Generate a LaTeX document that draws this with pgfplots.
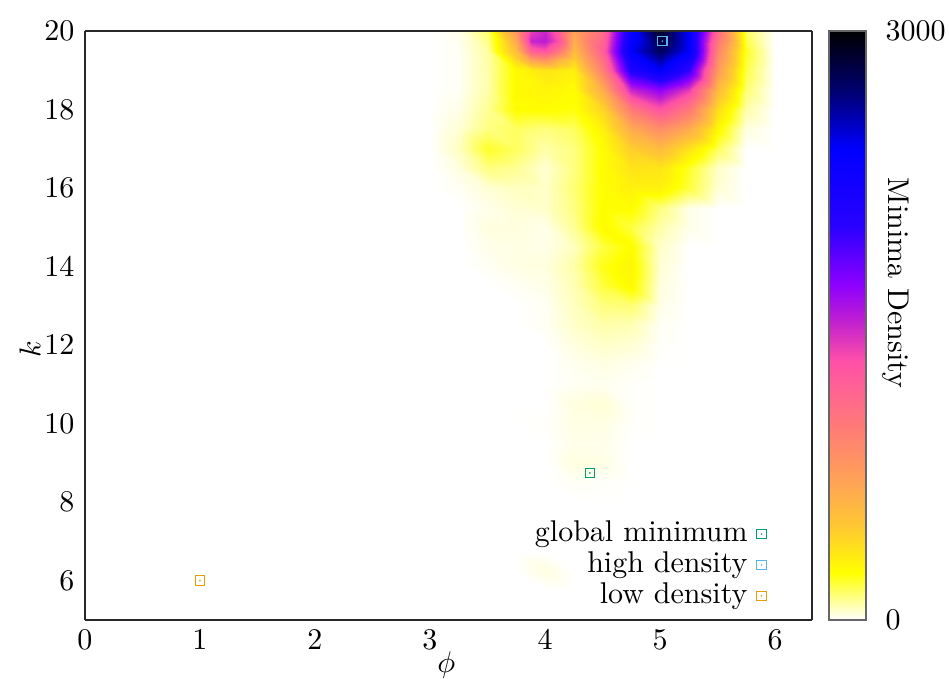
\documentclass[border=0pt]{standalone}
\usepackage{pgfplots}
\pgfplotsset{compat=1.18}

\definecolor{cglob}{RGB}{0,158,115}
\definecolor{chigh}{RGB}{86,180,233}
\definecolor{clow}{RGB}{230,159,0}
\definecolor{frame}{RGB}{40,40,40}

% square with a small dot in the middle
\pgfdeclareplotmark{sqdot}{%
  \pgfpathrectangle{\pgfpoint{-\pgfplotmarksize}{-\pgfplotmarksize}}%
    {\pgfpoint{2\pgfplotmarksize}{2\pgfplotmarksize}}%
  \pgfusepathqstroke
  \pgfpathcircle{\pgfpointorigin}{0.3pt}%
  \pgfusepathqfill
}

\pgfplotsset{
  colormap={density}{
    rgb255(0pt)=(255,255,255);
    rgb255(8pt)=(255,255,0);
    rgb255(15pt)=(255,205,45);
    rgb255(23pt)=(255,165,85);
    rgb255(33pt)=(255,122,120);
    rgb255(44pt)=(255,80,168);
    rgb255(51pt)=(190,30,210);
    rgb255(57pt)=(140,0,255);
    rgb255(67pt)=(40,0,255);
    rgb255(80pt)=(0,0,255);
    rgb255(90pt)=(0,0,110);
    rgb255(100pt)=(0,0,0)
  }
}

\begin{document}
\begin{tikzpicture}
\begin{axis}[
  name=main,
  scale only axis,
  width=242.3pt, height=196.3pt,
  view={0}{90},
  xmin=0, xmax=6.32, ymin=5, ymax=20,
  xtick={0,1,2,3,4,5,6},
  ytick={6,8,10,12,14,16,18,20},
  ztick=\empty,
  major tick length=0pt,
  axis line style={draw=frame, line width=0.8pt},
  colormap name=density,
  point meta min=0, point meta max=3000,
  xlabel={$\phi$}, ylabel={$k$},
  xlabel style={at={(axis description cs:0.497,-0.076)}, anchor=center},
  ylabel style={at={(axis description cs:-0.0757,0.46)}, anchor=center},
  colorbar,
  colorbar shift/.style={xshift=5.7pt},
  colorbar style={
    at={(parent axis.north east)}, anchor=north west,
    width=12.3pt,
    ytick={0,3000},
    major tick length=0pt,
    yticklabel style={xshift=3pt, /pgf/number format/1000 sep={}},
    axis line style={draw=gray!80!black, line width=0.5pt},
    ylabel={Minima Density},
    ylabel style={rotate=180, at={(axis description cs:1.81,0.572)}, anchor=center},
  },
  legend style={draw=none, fill=none, inner sep=0pt,
    at={(rel axis cs:0.938,0.0136)}, anchor=south east,
    column sep=3pt,
    nodes={inner sep=0.15pt, text height=0.75em, text depth=0.25em}},
  legend cell align=right,
  legend plot pos=right,
  legend image code/.code={\draw[#1] plot coordinates {(0pt,0pt)};},
]

% density field (phi = 3.0 ... 6.0 step 0.25, k = 20 ... 8 step 0.5)
\addplot3[surf, shader=interp, mesh/cols=13, point meta=z, forget plot] coordinates {
(3,20,0) (3.25,20,20) (3.5,20,140) (3.75,20,800) (4,20,1550) (4.25,20,700) (4.5,20,1100) (4.75,20,2300) (5,20,2900) (5.25,20,2400) (5.5,20,1100) (5.75,20,150) (6,20,0)
(3,19.5,0) (3.25,19.5,10) (3.5,19.5,90) (3.75,19.5,550) (4,19.5,1200) (4.25,19.5,550) (4.5,19.5,1200) (4.75,19.5,2400) (5,19.5,2750) (5.25,19.5,2400) (5.5,19.5,900) (5.75,19.5,200) (6,19.5,0)
(3,19,0) (3.25,19,10) (3.5,19,80) (3.75,19,260) (4,19,350) (4.25,19,300) (4.5,19,950) (4.75,19,2100) (5,19,2400) (5.25,19,2000) (5.5,19,750) (5.75,19,170) (6,19,0)
(3,18.5,0) (3.25,18.5,10) (3.5,18.5,80) (3.75,18.5,260) (4,18.5,280) (4.25,18.5,250) (4.5,18.5,650) (4.75,18.5,1500) (5,18.5,1700) (5.25,18.5,1400) (5.5,18.5,550) (5.75,18.5,130) (6,18.5,0)
(3,18,0) (3.25,18,20) (3.5,18,100) (3.75,18,250) (4,18,250) (4.25,18,230) (4.5,18,420) (4.75,18,1000) (5,18,1300) (5.25,18,1000) (5.5,18,380) (5.75,18,80) (6,18,0)
(3,17.5,0) (3.25,17.5,40) (3.5,17.5,120) (3.75,17.5,150) (4,17.5,120) (4.25,17.5,150) (4.5,17.5,300) (4.75,17.5,650) (5,17.5,850) (5.25,17.5,650) (5.5,17.5,260) (5.75,17.5,30) (6,17.5,0)
(3,17,0) (3.25,17,60) (3.5,17,200) (3.75,17,150) (4,17,80) (4.25,17,120) (4.5,17,250) (4.75,17,450) (5,17,550) (5.25,17,350) (5.5,17,150) (5.75,17,0) (6,17,0)
(3,16.5,0) (3.25,16.5,30) (3.5,16.5,120) (3.75,16.5,100) (4,16.5,40) (4.25,16.5,120) (4.5,16.5,250) (4.75,16.5,350) (5,16.5,350) (5.25,16.5,200) (5.5,16.5,50) (5.75,16.5,0) (6,16.5,0)
(3,16,0) (3.25,16,10) (3.5,16,40) (3.75,16,60) (4,16,50) (4.25,16,130) (4.5,16,250) (4.75,16,300) (5,16,300) (5.25,16,180) (5.5,16,40) (5.75,16,0) (6,16,0)
(3,15.5,0) (3.25,15.5,0) (3.5,15.5,20) (3.75,15.5,40) (4,15.5,50) (4.25,15.5,120) (4.5,15.5,250) (4.75,15.5,250) (5,15.5,120) (5.25,15.5,20) (5.5,15.5,0) (5.75,15.5,0) (6,15.5,0)
(3,15,0) (3.25,15,0) (3.5,15,30) (3.75,15,30) (4,15,20) (4.25,15,100) (4.5,15,260) (4.75,15,180) (5,15,80) (5.25,15,20) (5.5,15,0) (5.75,15,0) (6,15,0)
(3,14.5,0) (3.25,14.5,0) (3.5,14.5,20) (3.75,14.5,25) (4,14.5,20) (4.25,14.5,60) (4.5,14.5,180) (4.75,14.5,250) (5,14.5,50) (5.25,14.5,0) (5.5,14.5,0) (5.75,14.5,0) (6,14.5,0)
(3,14,0) (3.25,14,0) (3.5,14,10) (3.75,14,25) (4,14,30) (4.25,14,80) (4.5,14,220) (4.75,14,280) (5,14,40) (5.25,14,0) (5.5,14,0) (5.75,14,0) (6,14,0)
(3,13.5,0) (3.25,13.5,0) (3.5,13.5,0) (3.75,13.5,10) (4,13.5,20) (4.25,13.5,70) (4.5,13.5,180) (4.75,13.5,260) (5,13.5,30) (5.25,13.5,0) (5.5,13.5,0) (5.75,13.5,0) (6,13.5,0)
(3,13,0) (3.25,13,0) (3.5,13,0) (3.75,13,0) (4,13,10) (4.25,13,60) (4.5,13,120) (4.75,13,130) (5,13,20) (5.25,13,0) (5.5,13,0) (5.75,13,0) (6,13,0)
(3,12.5,0) (3.25,12.5,0) (3.5,12.5,0) (3.75,12.5,0) (4,12.5,10) (4.25,12.5,50) (4.5,12.5,80) (4.75,12.5,70) (5,12.5,10) (5.25,12.5,0) (5.5,12.5,0) (5.75,12.5,0) (6,12.5,0)
(3,12,0) (3.25,12,0) (3.5,12,0) (3.75,12,0) (4,12,0) (4.25,12,30) (4.5,12,50) (4.75,12,40) (5,12,5) (5.25,12,0) (5.5,12,0) (5.75,12,0) (6,12,0)
(3,11.5,0) (3.25,11.5,0) (3.5,11.5,0) (3.75,11.5,0) (4,11.5,0) (4.25,11.5,15) (4.5,11.5,25) (4.75,11.5,15) (5,11.5,0) (5.25,11.5,0) (5.5,11.5,0) (5.75,11.5,0) (6,11.5,0)
(3,11,0) (3.25,11,0) (3.5,11,0) (3.75,11,0) (4,11,0) (4.25,11,10) (4.5,11,15) (4.75,11,5) (5,11,0) (5.25,11,0) (5.5,11,0) (5.75,11,0) (6,11,0)
(3,10.5,0) (3.25,10.5,0) (3.5,10.5,0) (3.75,10.5,0) (4,10.5,0) (4.25,10.5,30) (4.5,10.5,40) (4.75,10.5,5) (5,10.5,0) (5.25,10.5,0) (5.5,10.5,0) (5.75,10.5,0) (6,10.5,0)
(3,10,0) (3.25,10,0) (3.5,10,0) (3.75,10,0) (4,10,5) (4.25,10,25) (4.5,10,25) (4.75,10,5) (5,10,0) (5.25,10,0) (5.5,10,0) (5.75,10,0) (6,10,0)
(3,9.5,0) (3.25,9.5,0) (3.5,9.5,0) (3.75,9.5,0) (4,9.5,0) (4.25,9.5,20) (4.5,9.5,20) (4.75,9.5,0) (5,9.5,0) (5.25,9.5,0) (5.5,9.5,0) (5.75,9.5,0) (6,9.5,0)
(3,9,0) (3.25,9,0) (3.5,9,0) (3.75,9,0) (4,9,0) (4.25,9,30) (4.5,9,25) (4.75,9,0) (5,9,0) (5.25,9,0) (5.5,9,0) (5.75,9,0) (6,9,0)
(3,8.5,0) (3.25,8.5,0) (3.5,8.5,0) (3.75,8.5,0) (4,8.5,0) (4.25,8.5,10) (4.5,8.5,5) (4.75,8.5,0) (5,8.5,0) (5.25,8.5,0) (5.5,8.5,0) (5.75,8.5,0) (6,8.5,0)
(3,8,0) (3.25,8,0) (3.5,8,0) (3.75,8,0) (4,8,0) (4.25,8,0) (4.5,8,0) (4.75,8,0) (5,8,0) (5.25,8,0) (5.5,8,0) (5.75,8,0) (6,8,0)
};

% finer patch for the small peak near phi = 3.93, k = 19.8
\addplot3[surf, shader=interp, mesh/cols=5, point meta=z, forget plot] coordinates {
(3.75,20,800) (3.875,20,1400) (4,20,1500) (4.125,20,1200) (4.25,20,700)
(3.75,19.75,675) (3.875,19.75,1500) (4,19.75,1550) (4.125,19.75,1300) (4.25,19.75,625)
(3.75,19.5,550) (3.875,19.5,1200) (4,19.5,1300) (4.125,19.5,1000) (4.25,19.5,550)
(3.75,19.25,405) (3.875,19.25,700) (4,19.25,800) (4.125,19.25,600) (4.25,19.25,425)
(3.75,19,260) (3.875,19,305) (4,19,350) (4.125,19,325) (4.25,19,300)
};

% faint spot near phi = 4, k = 6.2
\addplot3[surf, shader=interp, mesh/cols=3, point meta=z, forget plot] coordinates {
(3.75,6.75,0) (4,6.75,0) (4.25,6.75,0)
(3.75,6.25,0) (4,6.25,30) (4.25,6.25,0)
(3.75,5.75,0) (4,5.75,0) (4.25,5.75,0)
};

\addplot3[only marks, mark=sqdot, mark size=1.55pt, color=cglob, line width=0.35pt]
  coordinates {(4.39,8.74,0)};
\addlegendentry{global minimum}
\addplot3[only marks, mark=sqdot, mark size=1.55pt, color=chigh, line width=0.35pt]
  coordinates {(5.02,19.74,0)};
\addlegendentry{high density}
\addplot3[only marks, mark=sqdot, mark size=1.55pt, color=clow, line width=0.35pt]
  coordinates {(1.0,6.0,0)};
\addlegendentry{low density}
\end{axis}
\pgfresetboundingbox
\path ([shift={(-28.3pt,-19.7pt)}]main.south west) rectangle ([shift={(45.7pt,10.3pt)}]main.north east);
\end{tikzpicture}
\end{document}
